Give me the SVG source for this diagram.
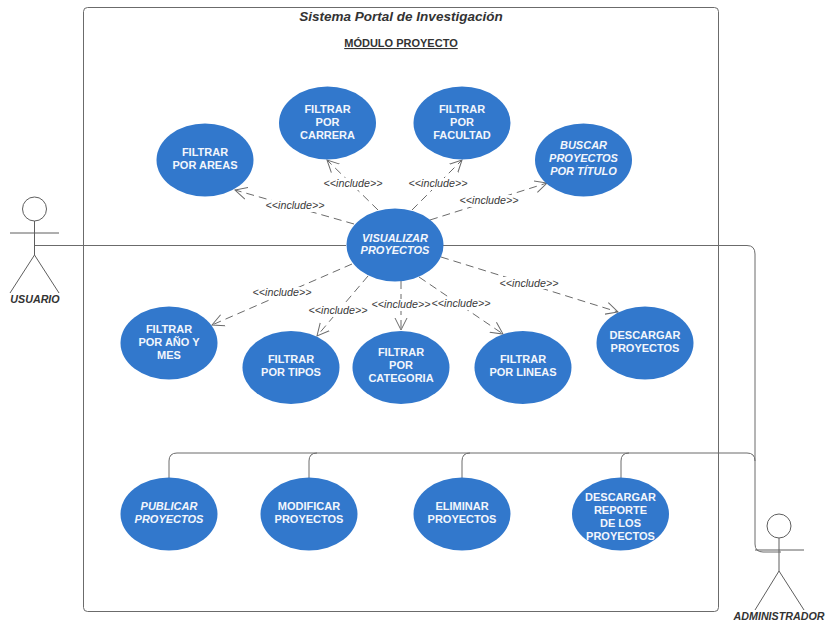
<svg xmlns="http://www.w3.org/2000/svg" width="825" height="623" viewBox="0 0 825 623">
<style>
text{font-family:"Liberation Sans",Arial,sans-serif}
.uc ellipse{fill:#3278cc;stroke:none}
.uc text{fill:#f2f6fc;font-size:11px;font-weight:bold;text-anchor:middle}
.uc.i text{font-style:italic}
.ln{fill:none;stroke:#6b6b6b;stroke-width:1}
.dash{fill:none;stroke:#6b6b6b;stroke-width:1;stroke-dasharray:8 5;marker-end:url(#a)}
.lab{font-size:10.7px;font-style:italic;fill:#3a3a3a;text-anchor:middle}
.act{fill:none;stroke:#5e5e5e;stroke-width:1}
.actl{font-size:10.7px;font-weight:bold;font-style:italic;fill:#333;text-anchor:middle}
</style>
<defs>
<marker id="a" markerUnits="userSpaceOnUse" markerWidth="14" markerHeight="14" refX="12" refY="6" orient="auto" viewBox="0 0 14 12">
<path d="M0 0L12 6L0 12" fill="none" stroke="#6b6b6b" stroke-width="1" stroke-dasharray="none"/>
</marker>
</defs>
<g id="system"><rect x="83.500" y="7.500" width="635" height="604" rx="4" fill="#fff" stroke="#6b6b6b"/>
<text x="401" y="21" font-size="13.500" font-weight="bold" font-style="italic" fill="#333" text-anchor="middle">Sistema Portal de Investigación</text>
<text x="401" y="47" font-size="11" font-weight="bold" fill="#333" text-anchor="middle" text-decoration="underline">MÓDULO PROYECTO</text></g>
<g id="connectors">
<path class="ln" d="M34 245.500H346"/>
<path class="ln" d="M443 245.500H747Q755 245.500 755 254V544Q755 552 763 552H781"/>
<path class="ln" d="M169 478V461Q169 453 177 453H747Q755 453 755 461"/>
<path class="ln" d="M309 478V461Q309 453 317 453M462 478V461Q462 453 470 453M621 478V461Q621 453 629 453"/>
<path class="dash" d="M354 224L235 190"/>
<path class="dash" d="M378 210L327 160"/>
<path class="dash" d="M412 210L462 160"/>
<path class="dash" d="M430 220L547 183"/>
<path class="dash" d="M352 264L212 325"/>
<path class="dash" d="M368 276L317 336"/>
<path class="dash" d="M401 281V330"/>
<path class="dash" d="M419 277L503 334"/>
<path class="dash" d="M441 257L618 312"/>
<g>
<rect x="264" y="200" width="62" height="12" fill="#fff"/><text class="lab" x="295" y="209">&lt;&lt;include&gt;&gt;</text>
<rect x="322" y="178" width="62" height="12" fill="#fff"/><text class="lab" x="353" y="187">&lt;&lt;include&gt;&gt;</text>
<rect x="407" y="178" width="62" height="12" fill="#fff"/><text class="lab" x="438" y="187">&lt;&lt;include&gt;&gt;</text>
<rect x="458" y="195" width="62" height="12" fill="#fff"/><text class="lab" x="489" y="204">&lt;&lt;include&gt;&gt;</text>
<rect x="252" y="287" width="62" height="12" fill="#fff"/><text class="lab" x="282" y="296">&lt;&lt;include&gt;&gt;</text>
<rect x="308" y="305" width="62" height="12" fill="#fff"/><text class="lab" x="338" y="314">&lt;&lt;include&gt;&gt;</text>
<rect x="371" y="299" width="62" height="12" fill="#fff"/><text class="lab" x="401" y="308">&lt;&lt;include&gt;&gt;</text>
<rect x="431" y="298" width="62" height="12" fill="#fff"/><text class="lab" x="461" y="307">&lt;&lt;include&gt;&gt;</text>
<rect x="499" y="277" width="62" height="12" fill="#fff"/><text class="lab" x="529" y="287">&lt;&lt;include&gt;&gt;</text>
</g>
</g>
<g id="usuario"><circle class="act" cx="34.500" cy="209" r="12"/><path class="act" d="M34.500 221V255M10 233H59M34.500 255L10 293M34.500 255L59 293"/><text class="actl" x="35" y="303">USUARIO</text></g>
<g id="administrador"><circle class="act" cx="779" cy="526" r="12"/><path class="act" d="M779 538V571M755 550H804M779 571L755 610M779 571L804 610"/><text class="actl" x="779" y="620">ADMINISTRADOR</text></g>
<g id="uc-areas" class="uc"><ellipse cx="205" cy="160" rx="48.500" ry="36.500"/><text x="205" y="156">FILTRAR</text><text x="205" y="169">POR AREAS</text></g>
<g id="uc-carrera" class="uc"><ellipse cx="327.500" cy="123" rx="48.500" ry="36.500"/><text x="327.500" y="113">FILTRAR</text><text x="327.500" y="126">POR</text><text x="327.500" y="139">CARRERA</text></g>
<g id="uc-facultad" class="uc"><ellipse cx="462" cy="123" rx="48.500" ry="36.500"/><text x="462" y="113">FILTRAR</text><text x="462" y="126">POR</text><text x="462" y="139">FACULTAD</text></g>
<g id="uc-buscar" class="uc i"><ellipse cx="583.500" cy="160" rx="48.500" ry="36.500"/><text x="583.500" y="149">BUSCAR</text><text x="583.500" y="162">PROYECTOS</text><text x="583.500" y="175">POR TÍTULO</text></g>
<g id="uc-visualizar" class="uc i"><ellipse cx="395" cy="245" rx="48.500" ry="36.500"/><text x="395" y="242">VISUALIZAR</text><text x="395" y="254">PROYECTOS</text></g>
<g id="uc-anio" class="uc"><ellipse cx="169" cy="343" rx="48.500" ry="36.500"/><text x="169" y="333">FILTRAR</text><text x="169" y="346">POR AÑO Y</text><text x="169" y="359">MES</text></g>
<g id="uc-tipos" class="uc"><ellipse cx="291" cy="367.500" rx="48.500" ry="36.500"/><text x="291" y="363">FILTRAR</text><text x="291" y="376">POR TIPOS</text></g>
<g id="uc-categoria" class="uc"><ellipse cx="401" cy="367.500" rx="48.500" ry="36.500"/><text x="401" y="356">FILTRAR</text><text x="401" y="369">POR</text><text x="401" y="382">CATEGORIA</text></g>
<g id="uc-lineas" class="uc"><ellipse cx="523" cy="367.500" rx="48.500" ry="36.500"/><text x="523" y="363">FILTRAR</text><text x="523" y="376">POR LINEAS</text></g>
<g id="uc-descargar" class="uc"><ellipse cx="645" cy="343" rx="48.500" ry="36.500"/><text x="645" y="339">DESCARGAR</text><text x="645" y="352">PROYECTOS</text></g>
<g id="uc-publicar" class="uc i"><ellipse cx="169" cy="514" rx="48.500" ry="36.500"/><text x="169" y="510">PUBLICAR</text><text x="169" y="523">PROYECTOS</text></g>
<g id="uc-modificar" class="uc"><ellipse cx="309" cy="514" rx="48.500" ry="36.500"/><text x="309" y="510">MODIFICAR</text><text x="309" y="523">PROYECTOS</text></g>
<g id="uc-eliminar" class="uc"><ellipse cx="462" cy="514" rx="48.500" ry="36.500"/><text x="462" y="510">ELIMINAR</text><text x="462" y="523">PROYECTOS</text></g>
<g id="uc-reporte" class="uc"><ellipse cx="620.500" cy="514" rx="48.500" ry="36.500"/><text x="620.500" y="501">DESCARGAR</text><text x="620.500" y="514">REPORTE</text><text x="620.500" y="527">DE LOS</text><text x="620.500" y="540">PROYECTOS</text></g>
</svg>
